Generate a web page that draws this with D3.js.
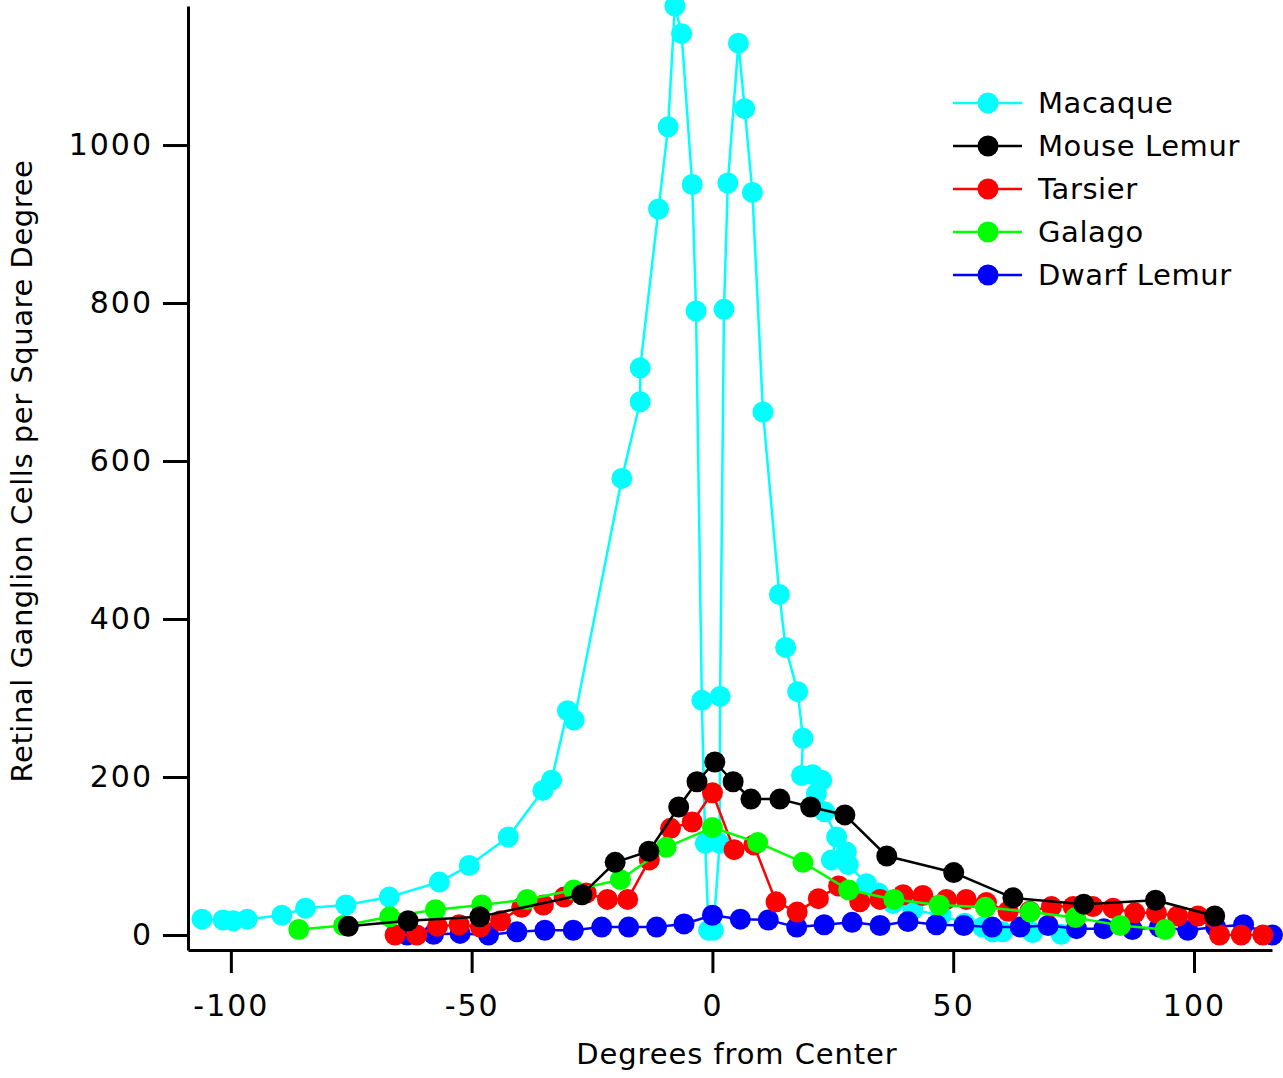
<!DOCTYPE html>
<html>
<head>
<meta charset="utf-8">
<script src="https://cdn.jsdelivr.net/npm/d3@7"></script>
<style>
  html, body { margin: 0; padding: 0; background: #fff; }
  svg { display: block; }
  text { font-family: "DejaVu Sans", Verdana, sans-serif; fill: #000; }
</style>
</head>
<body>
<svg id="chart" width="1283" height="1078"></svg>
<script>
// ---- Data (degrees from center, RGC per square degree) ----
const macaqueX = [-106, -101.6, -99.5, -96.6, -89.4, -84.5, -76.1, -67.1, -56.7, -50.5, -42.4, -35.2, -33.4, -30.1, -28.7, -18.8, -15.0, -15.0, -11.2, -9.2, -7.8, -6.4, -4.2, -3.4, -2.2, -1.5, -0.8, 0.2, 1.5, 1.6, 2.4, 3.2, 5.4, 6.7, 8.3, 10.5, 13.9, 15.2, 17.7, 18.8, 18.5, 20.8, 22.7, 21.6, 23.3, 25.8, 24.7, 27.8, 28.2, 32.0, 34.5, 37.5, 41.6, 47.5, 52.4, 56.1, 58.2, 60.3, 66.5, 72.4];
const macaqueY = [20, 19, 18, 20, 25, 34, 38, 48, 67, 88, 124, 183, 196, 284, 272, 578, 675, 718, 919, 1023, 1176, 1141, 950, 790, 297, 116, 6, 6, 116, 302, 792, 952, 1129, 1046, 940, 662, 431, 364, 308, 249, 202, 203, 196, 179, 156, 124, 95, 105, 89, 65, 53, 40, 32, 25, 15, 10, 4, 4, 3, 1];

const mouseLemurX = [-75.6, -63.2, -48.3, -27.1, -20.2, -13.2, -7.0, -3.2, 0.5, 4.3, 8.0, 14.0, 20.4, 27.5, 36.2, 50.1, 62.4, 77.1, 92.0, 104.3];
const mouseLemurY = [11, 18, 23, 51, 92, 106, 162, 194, 219, 194, 172, 172, 162, 152, 100, 79, 47, 39, 44, 24];

const tarsierX = [-65.9, -61.4, -57.1, -52.6, -48.2, -44.0, -39.6, -35.1, -30.8, -26.2, -21.8, -17.6, -13.1, -8.7, -4.2, 0, 4.5, 8.6, 13.2, 17.6, 22.0, 26.2, 30.6, 34.8, 39.6, 43.7, 48.6, 52.7, 56.9, 61.4, 65.9, 70.4, 74.9, 79.0, 83.2, 87.7, 92.2, 96.6, 100.8, 105.3, 109.8, 114.3];
const tarsierY = [0, 0, 11, 13, 10, 18, 35, 38, 48, 53, 45, 45, 95, 135, 143, 180, 108, 114, 42, 29, 46, 62, 42, 45, 51, 50, 45, 45, 41, 30, 30, 36, 36, 36, 34, 28, 28, 24, 24, 0, 0, 0];

const galagoX = [-85.9, -76.6, -67.0, -57.5, -47.9, -38.5, -28.8, -19.1, -9.6, 0, 9.4, 18.8, 28.3, 37.7, 47.1, 56.7, 66.0, 75.4, 84.7, 94.0];
const galagoY = [7, 12, 23, 32, 38, 45, 57, 70, 111, 136, 117, 92, 57, 45, 38, 35, 29, 22, 12, 7];

const dwarfLemurX = [-63.4, -57.9, -52.4, -46.5, -40.6, -34.8, -28.9, -23.0, -17.4, -11.6, -5.9, 0, 5.8, 11.6, 17.5, 23.2, 29.0, 34.8, 40.6, 46.5, 52.2, 58.1, 63.9, 69.7, 75.6, 81.3, 87.2, 92.8, 98.7, 104.5, 110.3, 116.3];
const dwarfLemurY = [0, 1, 2, 0, 4, 6, 6, 10, 10, 10, 14, 25, 20, 19, 10, 13, 16, 12, 17, 13, 12, 10, 10, 12, 8, 8, 7, 10, 6, 10, 13, 0];

const seriesNames = ["Macaque", "Mouse Lemur", "Tarsier", "Galago", "Dwarf Lemur"];
const seriesColors = ["#00FFFF", "#000000", "#FF0000", "#00FF00", "#0000FF"];
const xTicks = [-100, -50, 0, 50, 100];
const yTicks = [0, 200, 400, 600, 800, 1000];
const xTitle = "Degrees from Center";
const yTitle = "Retinal Ganglion Cells per Square Degree";

const series = [
  { name: seriesNames[0], color: seriesColors[0], xs: macaqueX, ys: macaqueY },
  { name: seriesNames[1], color: seriesColors[1], xs: mouseLemurX, ys: mouseLemurY },
  { name: seriesNames[2], color: seriesColors[2], xs: tarsierX, ys: tarsierY },
  { name: seriesNames[3], color: seriesColors[3], xs: galagoX, ys: galagoY },
  { name: seriesNames[4], color: seriesColors[4], xs: dwarfLemurX, ys: dwarfLemurY }
];
// drawing order (bottom to top)
const drawOrder = [0, 4, 2, 3, 1];

const svg = d3.select("#chart");
const x = d3.scaleLinear().domain([-108.9, 116.2]).range([188, 1272]);
const y = d3.scaleLinear().domain([-19, 1176]).range([950, 6]);

const FS = 29;
const TFS = 30;
const R = 10.5;

// axes
const xAxis = d3.axisBottom(x).tickValues(xTicks).tickSize(23).tickPadding(22)
  .tickSizeOuter(0).tickFormat(d => String(d));
const gx = svg.append("g").attr("transform", "translate(0,950)").call(xAxis);
gx.select(".domain").attr("stroke-width", 3);
gx.selectAll(".tick line").attr("stroke-width", 3);
gx.selectAll(".tick text").attr("font-size", TFS).attr("letter-spacing", 2)
  .attr("font-family", '"DejaVu Sans", Verdana, sans-serif');

const yAxis = d3.axisLeft(y).tickValues(yTicks).tickSize(25).tickPadding(10)
  .tickSizeOuter(0).tickFormat(d => String(d));
const gy = svg.append("g").attr("transform", "translate(188,0)").call(yAxis);
gy.select(".domain").attr("stroke-width", 3);
gy.selectAll(".tick line").attr("stroke-width", 3);
gy.selectAll(".tick text").attr("font-size", TFS).attr("letter-spacing", 2)
  .attr("font-family", '"DejaVu Sans", Verdana, sans-serif');

// titles
svg.append("text").attr("x", 737).attr("y", 1064).attr("text-anchor", "middle")
  .attr("font-size", FS).attr("letter-spacing", 0.9).text(xTitle);
svg.append("text").attr("transform", "translate(32,471) rotate(-90)").attr("text-anchor", "middle")
  .attr("font-size", FS).attr("letter-spacing", 0.55).text(yTitle);

// series
const line = d3.line().x(d => x(d[0])).y(d => y(d[1]));
drawOrder.forEach(i => {
  const s = series[i];
  const pts = s.xs.map((v, k) => [v, s.ys[k]]);
  const g = svg.append("g");
  g.append("path").datum(pts).attr("d", line).attr("fill", "none")
    .attr("stroke", s.color).attr("stroke-width", 2.5).attr("stroke-linejoin", "round");
  g.selectAll("circle").data(pts).join("circle")
    .attr("cx", d => x(d[0])).attr("cy", d => y(d[1])).attr("r", R).attr("fill", s.color);
});

// legend
const lg = svg.append("g");
series.forEach((s, i) => {
  const yy = 103 + i * 43;
  lg.append("line").attr("x1", 953).attr("x2", 1022).attr("y1", yy).attr("y2", yy)
    .attr("stroke", s.color).attr("stroke-width", 2.5);
  lg.append("circle").attr("cx", 988).attr("cy", yy).attr("r", R).attr("fill", s.color);
  lg.append("text").attr("x", 1038).attr("y", yy).attr("dy", "0.36em")
    .attr("font-size", FS).attr("letter-spacing", 0.6).text(s.name);
});
</script>
</body>
</html>
